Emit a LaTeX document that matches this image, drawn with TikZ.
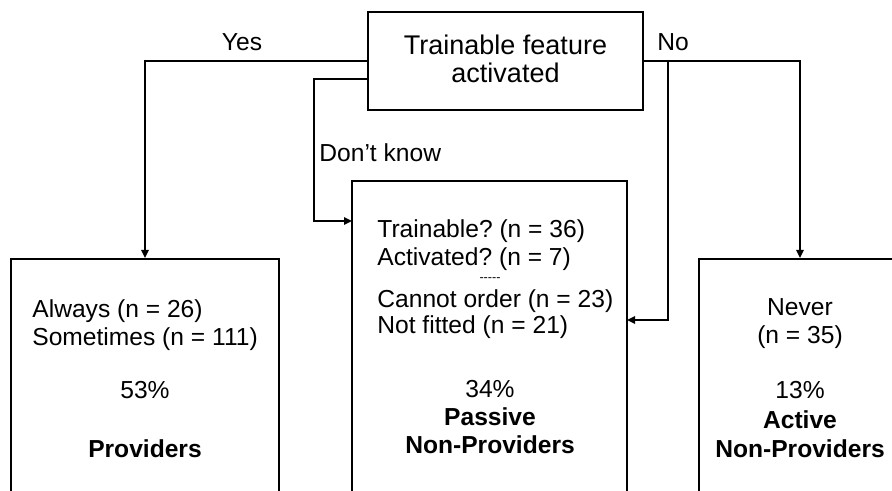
\documentclass[tikz,border=0pt]{standalone}
\usepackage{fontspec}
\setmainfont{Liberation Sans}
\usetikzlibrary{arrows.meta}
\begin{document}
\frenchspacing
\begin{tikzpicture}[x=0.5pt,y=-0.5pt,
  box/.style={draw=black,line width=1pt,rectangle,inner sep=0pt},
  txt/.style={inner sep=0pt,font=\fontsize{12.3}{15}\selectfont\frenchspacing},
  toptxt/.style={inner sep=0pt,font=\fontsize{13.5}{16}\selectfont},
  btxt/.style={inner sep=0pt,font=\fontsize{12.3}{15}\selectfont\bfseries},
  tiny/.style={inner sep=0pt,font=\fontsize{6.3}{7}\selectfont},
  conn/.style={draw=black,line width=1pt},
  arr/.style={conn,-{Triangle[length=4pt,width=3.6pt]}}]
\useasboundingbox (0,0) rectangle (892,491);
\clip (0,0) rectangle (892,491);
% boxes
\node[box,minimum width=137.5pt,minimum height=49pt] (top) at (505.5,61) {};
\node[box,minimum width=134pt,minimum height=140.5pt] (left) at (145,399.5) {};
\node[box,minimum width=137.5pt,minimum height=179.5pt] (mid) at (489.5,360.5) {};
\node[box,minimum width=101pt,minimum height=140.5pt] (right) at (800,399.5) {};
% top text
\node[toptxt,anchor=base] (t1) at (505.5,55) {Trainable feature};
\node[toptxt,anchor=base] (t2) at (505.5,83) {activated};
% left text
\node[txt,anchor=base west] (l1) at (32,317) {Always (n = 26)};
\node[txt,anchor=base west] (l2) at (32,345) {Sometimes (n = 111)};
\node[txt,anchor=base] (l3) at (145,398) {53\%};
\node[btxt,anchor=base] (l4) at (145,457) {Providers};
% middle text
\node[txt,anchor=base west] (m1) at (377,238) {Trainable? (n = 36)};
\node[txt,anchor=base west] (m2) at (377,265) {Activated? (n = 7)};
\node[tiny,anchor=base] (m3) at (490,281) {-{}-{}-{}-{}-};
\node[txt,anchor=base west] (m4) at (377,307) {Cannot order (n = 23)};
\node[txt,anchor=base west] (m5) at (377,333) {Not fitted (n = 21)};
\node[txt,anchor=base] (m6) at (490,397) {34\%};
\node[btxt,anchor=base] (m7) at (490,425) {Passive};
\node[btxt,anchor=base] (m8) at (490,453) {Non-Providers};
% right text
\node[txt,anchor=base] (r1) at (800,315) {Never};
\node[txt,anchor=base] (r2) at (800,343) {(n = 35)};
\node[txt,anchor=base] (r3) at (800,398) {13\%};
\node[btxt,anchor=base] (r4) at (800,428) {Active};
\node[btxt,anchor=base] (r5) at (800,457) {Non-Providers};
% labels
\node[txt,anchor=base] (yes) at (242,51) {Yes};
\node[txt,anchor=base] (no) at (673,51) {No};
\node[txt,anchor=base west] (dk) at (319,162) {Don’t know};
% connectors
\coordinate (dkA) at (368,79);
\coordinate (midL) at (352,221);
\coordinate (nob) at (668,61);
\coordinate (midR) at (627,320);
\draw[arr] (top.west) -| (left.north);
\draw[arr] (top.east) -| (right.north);
\draw[arr] (nob) |- (midR);
\draw[arr] (dkA) -- ++(-54,0) |- (midL);
\end{tikzpicture}
\end{document}
